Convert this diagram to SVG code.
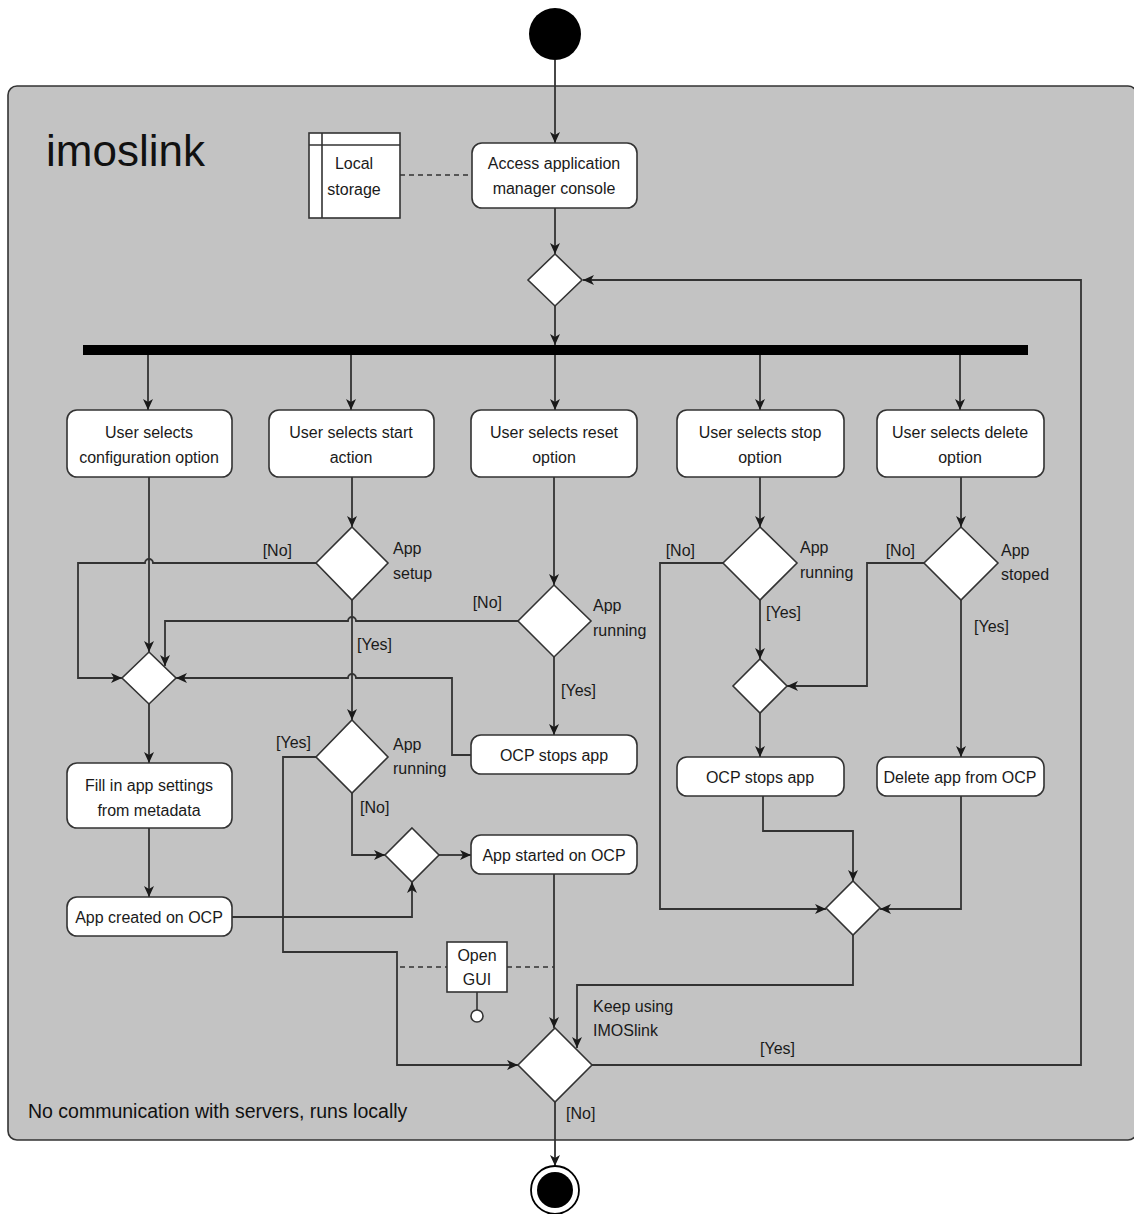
<svg xmlns="http://www.w3.org/2000/svg" width="1134" height="1214" viewBox="0 0 1134 1214">
  <style>
    .node { fill: #ffffff; stroke: #333333; stroke-width: 1.6; }
    .dec { fill: #ffffff; stroke: #333333; stroke-width: 1.6; }
    .t { font-family: "Liberation Sans", Arial, sans-serif; font-size: 16px; fill: #1a1a1a; text-anchor: middle; }
    .lbl { font-family: "Liberation Sans", Arial, sans-serif; font-size: 16px; fill: #1a1a1a; }
    .edge { fill: none; stroke: #333333; stroke-width: 1.8; marker-end: url(#arrow); }
    .dash { fill: none; stroke: #333333; stroke-width: 1.6; stroke-dasharray: 5 4; }
  </style>
  <defs>
    <marker id="arrow" viewBox="0 0 11 10" refX="11" refY="5" markerWidth="11" markerHeight="10" markerUnits="userSpaceOnUse" orient="auto">
      <path d="M0,0 L11,5 L0,10 L3,5 Z" fill="#1a1a1a"/>
    </marker>
  </defs>

  <!-- container -->
  <g id="container">
    <rect x="8" y="86" width="1129" height="1054" rx="9" ry="9" fill="#c3c3c3" stroke="#333333" stroke-width="1.6"/>
    <text x="46" y="166" font-family="Liberation Sans, Arial, sans-serif" font-size="44" fill="#111111">imoslink</text>
    <text x="28" y="1118" font-family="Liberation Sans, Arial, sans-serif" font-size="19.5" fill="#111111">No communication with servers, runs locally</text>
  </g>

  <!-- connectors -->
  <g id="connectors">
    <path class="edge" d="M555,60 V143"/>
    <path class="edge" d="M555,208 V254"/>
    <path class="edge" d="M555,306 V345"/>
    <path class="edge" d="M148,355 V410"/>
    <path class="edge" d="M351,355 V410"/>
    <path class="edge" d="M555,355 V410"/>
    <path class="edge" d="M760,355 V410"/>
    <path class="edge" d="M960,355 V410"/>

    <path class="edge" d="M149,477 V652"/>
    <path class="edge" d="M352,477 V527"/>
    <path class="edge" d="M554,477 V585"/>
    <path class="edge" d="M316,563 H153 a4,4 0 0 0 -8,0 H78 V678 H122"/>
    <path class="edge" d="M352,600 V720"/>
    <path class="edge" d="M518,621 H356 a4,4 0 0 0 -8,0 H165 V666"/>
    <path class="edge" d="M554,657 V735"/>
    <path class="edge" d="M471,755 H452 V678 H356 a4,4 0 0 0 -8,0 H176"/>
    <path class="edge" d="M149,704 V763"/>
    <path class="edge" d="M149,828 V897"/>
    <path class="edge" d="M232,917 H412 V882"/>
    <path class="edge" d="M316,757 H283 V952 H397 V1065 H518"/>
    <path class="edge" d="M352,793 V855 H385"/>
    <path class="edge" d="M439,855 H471"/>
    <path class="edge" d="M554,874 V1028"/>
    <path class="edge" d="M555,1102 V1166"/>
    <path class="edge" d="M592,1065 H1081 V280 H583"/>

    <path class="edge" d="M760,477 V527"/>
    <path class="edge" d="M723,563 H660 V909 H826"/>
    <path class="edge" d="M760,600 V659"/>
    <path class="edge" d="M760,713 V757"/>
    <path class="edge" d="M763,796 V831 H853 V881"/>
    <path class="edge" d="M961,477 V527"/>
    <path class="edge" d="M924,563 H867 V686 H787"/>
    <path class="edge" d="M961,600 V757"/>
    <path class="edge" d="M961,796 V909 H880"/>
    <path class="edge" d="M853,935 V985 H577 V1048"/>

    <path class="dash" d="M400,175 H472"/>
    <path class="dash" d="M400,967 H447"/>
    <path class="dash" d="M507,967 H554"/>

    <!-- guard labels -->
    <text class="lbl" x="292" y="556" text-anchor="end">[No]</text>
    <text class="lbl" x="357" y="650">[Yes]</text>
    <text class="lbl" x="502" y="608" text-anchor="end">[No]</text>
    <text class="lbl" x="561" y="696">[Yes]</text>
    <text class="lbl" x="311" y="748" text-anchor="end">[Yes]</text>
    <text class="lbl" x="360" y="813">[No]</text>
    <text class="lbl" x="760" y="1054">[Yes]</text>
    <text class="lbl" x="566" y="1119">[No]</text>
    <text class="lbl" x="695" y="556" text-anchor="end">[No]</text>
    <text class="lbl" x="766" y="618">[Yes]</text>
    <text class="lbl" x="915" y="556" text-anchor="end">[No]</text>
    <text class="lbl" x="974" y="632">[Yes]</text>
    <text class="lbl" x="593" y="1012">Keep using</text>
    <text class="lbl" x="593" y="1036">IMOSlink</text>
  </g>

  <!-- start / end -->
  <g id="start">
    <circle cx="555" cy="34" r="26" fill="#000000"/>
  </g>
  <g id="end">
    <circle cx="555" cy="1190" r="24" fill="#ffffff" stroke="#000000" stroke-width="1.8"/>
    <circle cx="555" cy="1190" r="18" fill="#000000"/>
  </g>

  <!-- fork bar -->
  <g id="fork">
    <rect x="83" y="345" width="945" height="10" fill="#000000"/>
  </g>

  <!-- data store -->
  <g id="local-storage">
    <rect class="node" x="309" y="133" width="91" height="85"/>
    <line x1="322" y1="133" x2="322" y2="218" stroke="#333333" stroke-width="1.6"/>
    <line x1="309" y1="145" x2="400" y2="145" stroke="#333333" stroke-width="1.6"/>
    <text class="t" x="354" y="169">Local</text>
    <text class="t" x="354" y="195">storage</text>
  </g>

  <g id="access-console">
    <rect class="node" x="472" y="143" width="165" height="65" rx="10"/>
    <text class="t" x="554" y="169">Access application</text>
    <text class="t" x="554" y="194">manager console</text>
  </g>

  <g id="merge-top">
    <polygon class="dec" points="555,254 582,280 555,306 528,280"/>
  </g>

  <g id="select-config">
    <rect class="node" x="67" y="410" width="165" height="67" rx="10"/>
    <text class="t" x="149" y="438">User selects</text>
    <text class="t" x="149" y="463">configuration option</text>
  </g>
  <g id="select-start">
    <rect class="node" x="269" y="410" width="165" height="67" rx="10"/>
    <text class="t" x="351" y="438">User selects start</text>
    <text class="t" x="351" y="463">action</text>
  </g>
  <g id="select-reset">
    <rect class="node" x="471" y="410" width="166" height="67" rx="10"/>
    <text class="t" x="554" y="438">User selects reset</text>
    <text class="t" x="554" y="463">option</text>
  </g>
  <g id="select-stop">
    <rect class="node" x="677" y="410" width="167" height="67" rx="10"/>
    <text class="t" x="760" y="438">User selects stop</text>
    <text class="t" x="760" y="463">option</text>
  </g>
  <g id="select-delete">
    <rect class="node" x="877" y="410" width="167" height="67" rx="10"/>
    <text class="t" x="960" y="438">User selects delete</text>
    <text class="t" x="960" y="463">option</text>
  </g>

  <g id="dec-app-setup">
    <polygon class="dec" points="352,527 388,563 352,600 316,563"/>
    <text class="lbl" x="393" y="554">App</text>
    <text class="lbl" x="393" y="579">setup</text>
  </g>
  <g id="dec-reset-running">
    <polygon class="dec" points="554,585 591,621 554,657 518,621"/>
    <text class="lbl" x="593" y="611">App</text>
    <text class="lbl" x="593" y="636">running</text>
  </g>
  <g id="merge-config">
    <polygon class="dec" points="149,652 176,678 149,704 122,678"/>
  </g>
  <g id="reset-stops-app">
    <rect class="node" x="471" y="735" width="166" height="39" rx="10"/>
    <text class="t" x="554" y="761">OCP stops app</text>
  </g>
  <g id="fill-settings">
    <rect class="node" x="67" y="763" width="165" height="65" rx="10"/>
    <text class="t" x="149" y="791">Fill in app settings</text>
    <text class="t" x="149" y="816">from metadata</text>
  </g>
  <g id="app-created">
    <rect class="node" x="67" y="897" width="165" height="39" rx="10"/>
    <text class="t" x="149" y="923">App created on OCP</text>
  </g>
  <g id="dec-start-running">
    <polygon class="dec" points="352,720 388,757 352,793 316,757"/>
    <text class="lbl" x="393" y="750">App</text>
    <text class="lbl" x="393" y="774">running</text>
  </g>
  <g id="merge-start">
    <polygon class="dec" points="412,828 439,855 412,882 385,855"/>
  </g>
  <g id="app-started">
    <rect class="node" x="471" y="835" width="166" height="39" rx="10"/>
    <text class="t" x="554" y="861">App started on OCP</text>
  </g>
  <g id="open-gui">
    <rect class="node" x="447" y="942" width="60" height="50"/>
    <text class="t" x="477" y="961">Open</text>
    <text class="t" x="477" y="985">GUI</text>
    <line x1="477" y1="992" x2="477" y2="1010" stroke="#333333" stroke-width="1.6"/>
    <circle cx="477" cy="1016" r="6" fill="#ffffff" stroke="#333333" stroke-width="1.6"/>
  </g>
  <g id="dec-keep-using">
    <polygon class="dec" points="555,1028 592,1065 555,1102 518,1065"/>
  </g>

  <g id="dec-stop-running">
    <polygon class="dec" points="760,527 797,563 760,600 723,563"/>
    <text class="lbl" x="800" y="553">App</text>
    <text class="lbl" x="800" y="578">running</text>
  </g>
  <g id="merge-stop">
    <polygon class="dec" points="760,659 787,686 760,713 733,686"/>
  </g>
  <g id="stop-stops-app">
    <rect class="node" x="677" y="757" width="167" height="39" rx="10"/>
    <text class="t" x="760" y="783">OCP stops app</text>
  </g>
  <g id="dec-app-stoped">
    <polygon class="dec" points="961,527 998,563 961,600 924,563"/>
    <text class="lbl" x="1001" y="556">App</text>
    <text class="lbl" x="1001" y="580">stoped</text>
  </g>
  <g id="delete-app">
    <rect class="node" x="877" y="757" width="167" height="39" rx="10"/>
    <text class="t" x="960" y="783">Delete app from OCP</text>
  </g>
  <g id="merge-right">
    <polygon class="dec" points="853,881 880,908 853,935 826,908"/>
  </g>
</svg>
